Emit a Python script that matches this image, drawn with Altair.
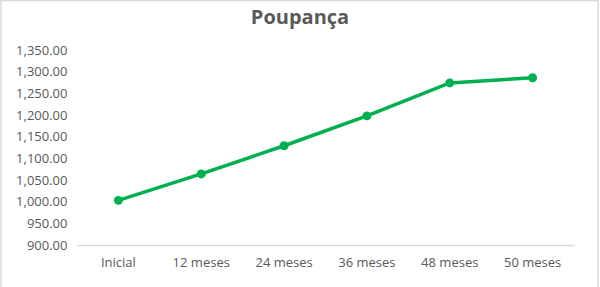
import altair as alt
import pandas as pd

categories = ["Inicial", "12 meses", "24 meses", "36 meses", "48 meses", "50 meses"]
values = [1003, 1064, 1129, 1198, 1274, 1286]
title_text = "Poupança"

df = pd.DataFrame({"periodo": categories, "valor": values})

GREEN = "#00B050"
GRAY = "#595959"
FONT = "Open Sans"

x_enc = alt.X(
    "periodo:N",
    sort=categories,
    scale=alt.Scale(type="band", paddingInner=0, paddingOuter=0),
    axis=alt.Axis(
        title=None,
        labelAngle=0,
        ticks=False,
        domain=True,
        domainColor="#D9D9D9",
        domainWidth=1.5,
        labelFont=FONT,
        labelFontSize=13,
        labelColor=GRAY,
        labelPadding=11,
        grid=False,
    ),
)
y_enc = alt.Y(
    "valor:Q",
    scale=alt.Scale(domain=[900, 1350], nice=False, zero=False),
    axis=alt.Axis(
        title=None,
        values=[900, 950, 1000, 1050, 1100, 1150, 1200, 1250, 1300, 1350],
        format=",.2f",
        ticks=False,
        domain=False,
        grid=False,
        labelFont=FONT,
        labelFontSize=13,
        labelColor=GRAY,
        labelPadding=10,
    ),
)

line = alt.Chart(df).mark_line(
    color=GREEN,
    strokeWidth=3.5,
    point=alt.OverlayMarkDef(color=GREEN, size=80, filled=True, opacity=1),
).encode(x=x_enc, y=y_enc)

title = alt.Chart(pd.DataFrame({"t": [title_text]})).mark_text(
    font=FONT, fontSize=20, fontWeight="bold", color=GRAY,
    align="center", baseline="alphabetic",
).encode(text="t:N", x=alt.value(223), y=alt.value(-26))

border = alt.Chart(pd.DataFrame({"t": [0]})).mark_rect(
    fill=None, stroke="#D9D9D9", strokeWidth=1.5,
).encode(x=alt.value(-76), x2=alt.value(521), y=alt.value(-49.5), y2=alt.value(245))

chart = alt.layer(border, line, title).properties(
    width=497,
    height=195,
    autosize=alt.AutoSizeParams(type="none"),
    padding={"left": 77, "top": 50, "right": 26, "bottom": 42},
    background="white",
).configure_view(stroke=None)

chart.save("out.html", embed_options={"renderer": "svg", "actions": False})
